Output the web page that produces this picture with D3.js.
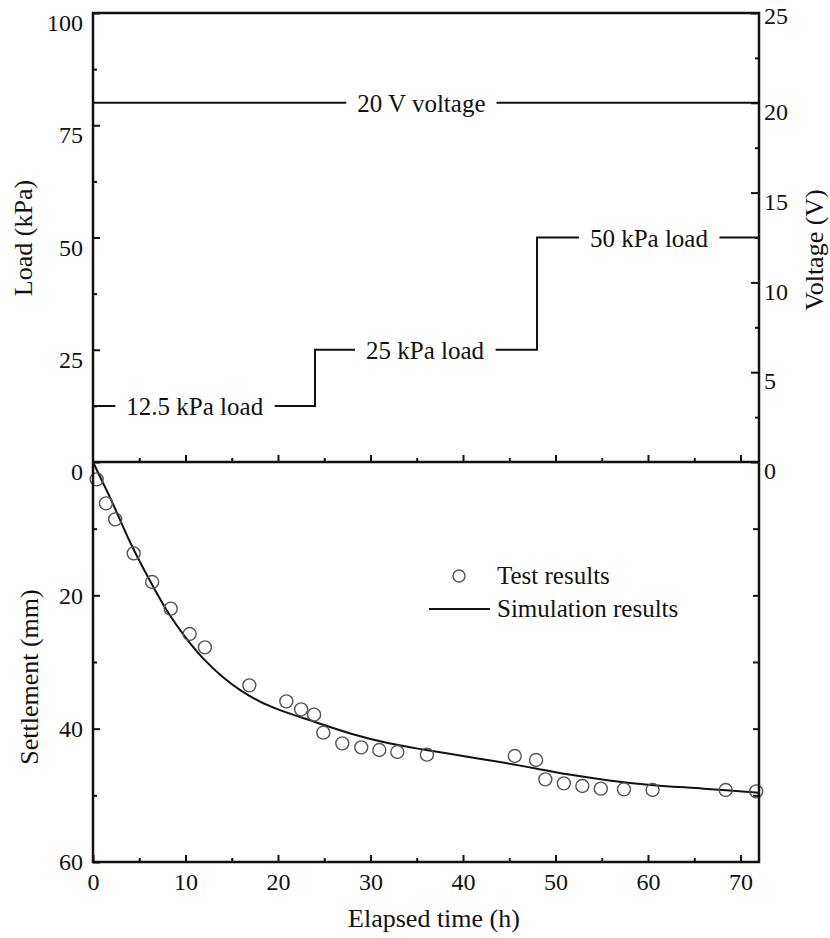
<!DOCTYPE html>
<html lang="en">
<head>
<meta charset="utf-8">
<title>Load, voltage and settlement vs elapsed time</title>
<script src="https://d3js.org/d3.v7.min.js"></script>
<style>
  body { margin: 0; background: #fff; }
  svg text { font-family: "Liberation Serif", "Times New Roman", serif; fill: #111; }
</style>
</head>
<body>
<svg width="830" height="938"></svg>
<script>
// ---- data ----
// load steps (kPa), value holds until next time
var loadTime  = [0, 24, 48, 72];
var loadValue = [12.5, 25, 50, 50];
// constant voltage (V)
var voltTime  = [0, 72];
var voltValue = [20, 20];

// measured settlement (test results)
var testTime = [0.4, 1.4, 2.4, 4.4, 6.4, 8.4, 10.45, 12.1, 16.9, 20.9, 22.5, 23.9, 24.9, 26.95,
                29.0, 30.95, 32.9, 36.1, 45.6, 47.9, 48.9, 50.9, 52.9, 54.9, 57.4, 60.5, 68.4, 71.7];
var testSettle = [2.6, 6.2, 8.6, 13.7, 18.0, 22.0, 25.8, 27.8, 33.5, 35.9, 37.1, 37.9, 40.6, 42.2,
                  42.8, 43.2, 43.5, 43.9, 44.1, 44.7, 47.6, 48.2, 48.6, 49.0, 49.1, 49.2, 49.2, 49.4];

// simulated settlement
var simTime   = [0, 1, 2, 4, 6, 8, 10, 12, 14, 16, 18, 20, 24, 28, 32, 36, 40, 44, 48, 52, 56, 60, 66, 72];
var simSettle = [0, 2.9, 5.8, 12.0, 17.4, 22.3, 26.3, 29.6, 32.2, 34.3, 35.9, 37.1, 39.0, 40.8,
                 42.2, 43.2, 44.1, 45.0, 46.0, 47.0, 47.8, 48.4, 49.0, 49.6];

// tick labels
var xTicks      = [0, 10, 20, 30, 40, 50, 60, 70];
var loadTicks   = [0, 25, 50, 75, 100];
var voltTicks   = [0, 5, 10, 15, 20, 25];
var settleTicks = [20, 40, 60];

var svg = d3.select("svg");
var plotL = 93, plotR = 759, plotT = 13, plotM = 462, plotB = 862;

var x = d3.scaleLinear().domain([0, 72]).range([plotL, plotR]);
var yLoad = d3.scaleLinear().domain([0, 100]).range([plotM, plotT]);
var yVolt = d3.scaleLinear().domain([0, 25]).range([plotM, plotT]);
var ySet  = d3.scaleLinear().domain([0, 60]).range([plotM, plotB]);

function styleAxis(g) {
    g.select(".domain").remove();
    g.selectAll(".tick line").attr("stroke", "#111").attr("stroke-width", 2);
    g.selectAll(".tick text").attr("font-size", 24).attr("fill", "#111");
}

// ---- top panel axes ----
// load (left)
svg.append("g").attr("transform", "translate(" + plotL + ",0)")
   .call(d3.axisLeft(yLoad).tickValues(d3.range(12.5, 100, 25)).tickSize(-4).tickFormat(""))
   .call(styleAxis);
svg.append("g").attr("transform", "translate(" + plotL + ",0)")
   .call(d3.axisLeft(yLoad).tickValues(loadTicks).tickSize(-7).tickPadding(10).tickFormat(d3.format("d")))
   .call(styleAxis)
   .selectAll(".tick text").attr("dy", "0.32em").attr("y", 10);

// voltage (right)
svg.append("g").attr("transform", "translate(" + plotR + ",0)")
   .call(d3.axisRight(yVolt).tickValues(d3.range(2.5, 25, 5)).tickSize(-4).tickFormat(""))
   .call(styleAxis);
svg.append("g").attr("transform", "translate(" + plotR + ",0)")
   .call(d3.axisRight(yVolt).tickValues(voltTicks).tickSize(-8).tickPadding(5).tickFormat(d3.format("d")))
   .call(styleAxis)
   .selectAll(".tick text").attr("dy", "0.32em").attr("y", function(d) { return d === 25 ? 3 : 9; });

// time ticks on shared middle line (pointing up)
svg.append("g").attr("transform", "translate(0," + plotM + ")")
   .call(d3.axisBottom(x).tickValues(d3.range(5, 72, 10)).tickSize(-4).tickFormat(""))
   .call(styleAxis);
svg.append("g").attr("transform", "translate(0," + plotM + ")")
   .call(d3.axisBottom(x).tickValues(d3.range(10, 72, 10)).tickSize(-7).tickFormat(""))
   .call(styleAxis);

// ---- bottom panel axes ----
svg.append("g").attr("transform", "translate(" + plotL + ",0)")
   .call(d3.axisLeft(ySet).tickValues([10, 30, 50]).tickSize(-4).tickFormat(""))
   .call(styleAxis);
svg.append("g").attr("transform", "translate(" + plotL + ",0)")
   .call(d3.axisLeft(ySet).tickValues(settleTicks).tickSize(-7).tickPadding(10).tickFormat(d3.format("d")))
   .call(styleAxis);
svg.append("g").attr("transform", "translate(" + plotR + ",0)")
   .call(d3.axisRight(ySet).tickValues([10, 20, 30, 40, 50]).tickSize(-6).tickFormat(""))
   .call(styleAxis);

svg.append("g").attr("transform", "translate(0," + plotB + ")")
   .call(d3.axisBottom(x).tickValues(d3.range(5, 72, 10)).tickSize(-4).tickFormat(""))
   .call(styleAxis);
svg.append("g").attr("transform", "translate(0," + plotB + ")")
   .call(d3.axisBottom(x).tickValues(xTicks).tickSize(-7).tickPadding(11).tickFormat(d3.format("d")))
   .call(styleAxis);

// ---- top panel lines ----
var stepLine = d3.line().curve(d3.curveStepAfter)
    .x(function(d) { return x(d[0]); }).y(function(d) { return yLoad(d[1]); });
svg.append("path")
   .attr("d", stepLine(d3.zip(loadTime, loadValue)))
   .attr("fill", "none").attr("stroke", "#111").attr("stroke-width", 2);

var voltLine = d3.line()
    .x(function(d) { return x(d[0]); }).y(function(d) { return yVolt(d[1]); });
svg.append("path")
   .attr("d", voltLine(d3.zip(voltTime, voltValue)))
   .attr("fill", "none").attr("stroke", "#111").attr("stroke-width", 2);

// labels sitting on the lines, with a white gap around them
var notes = [
    {text: "20 V voltage",  t: 35.5, y: yVolt(20)},
    {text: "12.5 kPa load", t: 11.0, y: yLoad(12.5)},
    {text: "25 kPa load",   t: 35.9, y: yLoad(25)},
    {text: "50 kPa load",   t: 60.1, y: yLoad(50)}
];
notes.forEach(function(n) {
    var g = svg.append("g");
    var rect = g.append("rect").attr("fill", "#fff");
    var txt = g.append("text")
        .attr("x", x(n.t)).attr("y", n.y + 9)
        .attr("text-anchor", "middle").attr("font-size", 25)
        .text(n.text);
    var b = txt.node().getBBox();
    rect.attr("x", b.x - 11).attr("y", n.y - 4).attr("width", b.width + 22).attr("height", 8);
});

// ---- bottom panel data ----
var simLine = d3.line().curve(d3.curveCatmullRom.alpha(0.5))
    .x(function(d) { return x(d[0]); }).y(function(d) { return ySet(d[1]); });
svg.append("path")
   .attr("d", simLine(d3.zip(simTime, simSettle)))
   .attr("fill", "none").attr("stroke", "#111").attr("stroke-width", 2);

svg.append("g").selectAll("circle")
   .data(d3.zip(testTime, testSettle))
   .join("circle")
   .attr("cx", function(d) { return x(d[0]); })
   .attr("cy", function(d) { return ySet(d[1]); })
   .attr("r", 6.5)
   .attr("fill", "none").attr("stroke", "#555").attr("stroke-width", 1.4);

// ---- frames ----
svg.append("rect").attr("x", plotL).attr("y", plotT).attr("width", plotR - plotL).attr("height", plotB - plotT)
   .attr("fill", "none").attr("stroke", "#111").attr("stroke-width", 2.5);
svg.append("line").attr("x1", plotL).attr("x2", plotR).attr("y1", plotM).attr("y2", plotM)
   .attr("stroke", "#111").attr("stroke-width", 2.5);

// ---- legend ----
var legend = svg.append("g");
legend.append("circle").attr("cx", 459).attr("cy", 576).attr("r", 6)
      .attr("fill", "none").attr("stroke", "#555").attr("stroke-width", 1.4);
legend.append("text").attr("x", 497).attr("y", 584).attr("font-size", 25).text("Test results");
legend.append("line").attr("x1", 429).attr("x2", 490).attr("y1", 609).attr("y2", 609)
      .attr("stroke", "#111").attr("stroke-width", 2);
legend.append("text").attr("x", 497).attr("y", 617).attr("font-size", 25).text("Simulation results");

// ---- axis titles ----
svg.append("text").attr("transform", "translate(32,238) rotate(-90)")
   .attr("text-anchor", "middle").attr("font-size", 26).text("Load (kPa)");
svg.append("text").attr("transform", "translate(38,677) rotate(-90)")
   .attr("text-anchor", "middle").attr("font-size", 26).text("Settlement (mm)");
svg.append("text").attr("transform", "translate(823,250) rotate(-90)")
   .attr("text-anchor", "middle").attr("font-size", 26).text("Voltage (V)");
svg.append("text").attr("x", 434).attr("y", 927)
   .attr("text-anchor", "middle").attr("font-size", 26).text("Elapsed time (h)");
</script>
</body>
</html>
